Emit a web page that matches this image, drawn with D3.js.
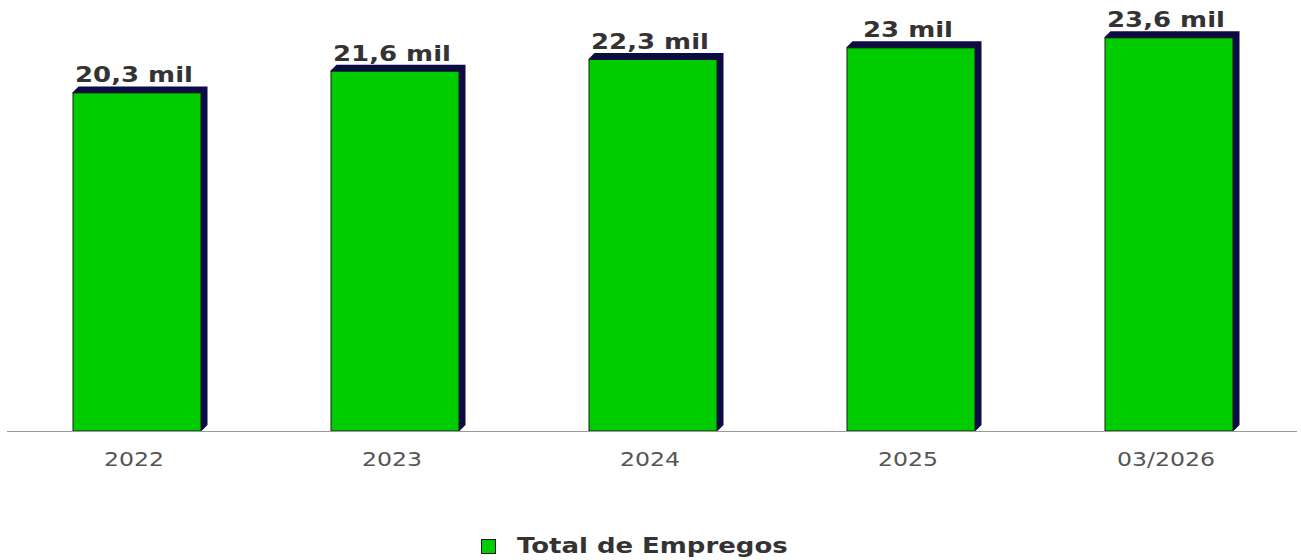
<!DOCTYPE html>
<html>
<head>
<meta charset="utf-8">
<script src="https://cdn.jsdelivr.net/npm/d3@7"></script>
<style>
  body { margin: 0; background: #fff; }
  text { font-family: "DejaVu Sans", Verdana, sans-serif; }
</style>
</head>
<body>
<div id="chart"></div>
<script>
var width = 1301;
var height = 560;

// data
var categories = ["2022", "2023", "2024", "2025", "03/2026"];
var empregos = [20300, 21600, 22300, 23000, 23600];
var seriesName = "Total de Empregos";

var depth = 6;      // 3d offset of the bars
var stretch = 1.18; // text in the picture is a bit wider than the font

var xScale = d3.scaleBand().domain(categories).range([8, 1298])
    .paddingInner(0.5).paddingOuter(0.25);
var yScale = d3.scaleLinear().domain([0, 25000]).range([431, 14]);

var svg = d3.select("#chart")
    .append("svg")
    .attr("width", width)
    .attr("height", height);

function fmt(v) {
  return d3.format(".1f")(v / 1000).replace(".0", "").replace(".", ",") + " mil";
}

var base = yScale(0);
var bars = svg.selectAll("g.bar")
  .data(empregos)
  .enter()
  .append("g")
  .attr("class", "bar");

// dark side / top (3d look)
bars.append("path")
  .attr("fill", "#0b0b45")
  .attr("d", function(d, i) {
    var x0 = xScale(categories[i]);
    var x1 = x0 + xScale.bandwidth();
    var top = yScale(d);
    return "M" + x0 + "," + top +
      "L" + (x0 + depth) + "," + (top - depth) +
      "L" + (x1 + depth) + "," + (top - depth) +
      "L" + (x1 + depth) + "," + (base - depth) +
      "L" + x1 + "," + base + "Z";
  });

// front face
bars.append("rect")
  .attr("x", function(d, i) { return xScale(categories[i]) + 0.5; })
  .attr("y", function(d) { return yScale(d) + 0.5; })
  .attr("width", xScale.bandwidth() - 1)
  .attr("height", function(d) { return base - yScale(d) - 0.5; })
  .attr("fill", "#00cc00")
  .attr("stroke", "#1a1a1a")
  .attr("stroke-width", 1);

// value labels
bars.append("text")
  .attr("transform", function(d, i) {
    var cx = xScale(categories[i]) + xScale.bandwidth() / 2 - 3;
    return "translate(" + cx + "," + (yScale(d) - 10) + ") scale(" + stretch + ",1)";
  })
  .attr("text-anchor", "middle")
  .style("font-size", "22px")
  .style("font-weight", "bold")
  .style("fill", "#333")
  .text(function(d) { return fmt(d); });

// baseline
svg.append("line")
  .attr("x1", 7).attr("x2", 1297)
  .attr("y1", base + 0.5).attr("y2", base + 0.5)
  .attr("stroke", "#999")
  .attr("stroke-width", 1);

// category labels
svg.selectAll("text.tick")
  .data(categories)
  .enter()
  .append("text")
  .attr("class", "tick")
  .attr("transform", function(d) {
    var cx = xScale(d) + xScale.bandwidth() / 2 - 3;
    return "translate(" + cx + ",466) scale(" + stretch + ",1)";
  })
  .attr("text-anchor", "middle")
  .style("font-size", "20px")
  .style("fill", "#555")
  .text(function(d) { return d; });

// legend
var legend = svg.append("g").attr("transform", "translate(481,539)");
legend.append("rect")
  .attr("x", 0.5).attr("y", 0.5)
  .attr("width", 14).attr("height", 14)
  .attr("fill", "#00cc00")
  .attr("stroke", "#1a1a1a");
legend.append("text")
  .attr("transform", "translate(36,14) scale(" + stretch + ",1)")
  .style("font-size", "22px")
  .style("font-weight", "bold")
  .style("fill", "#333")
  .text(seriesName);
</script>
</body>
</html>
